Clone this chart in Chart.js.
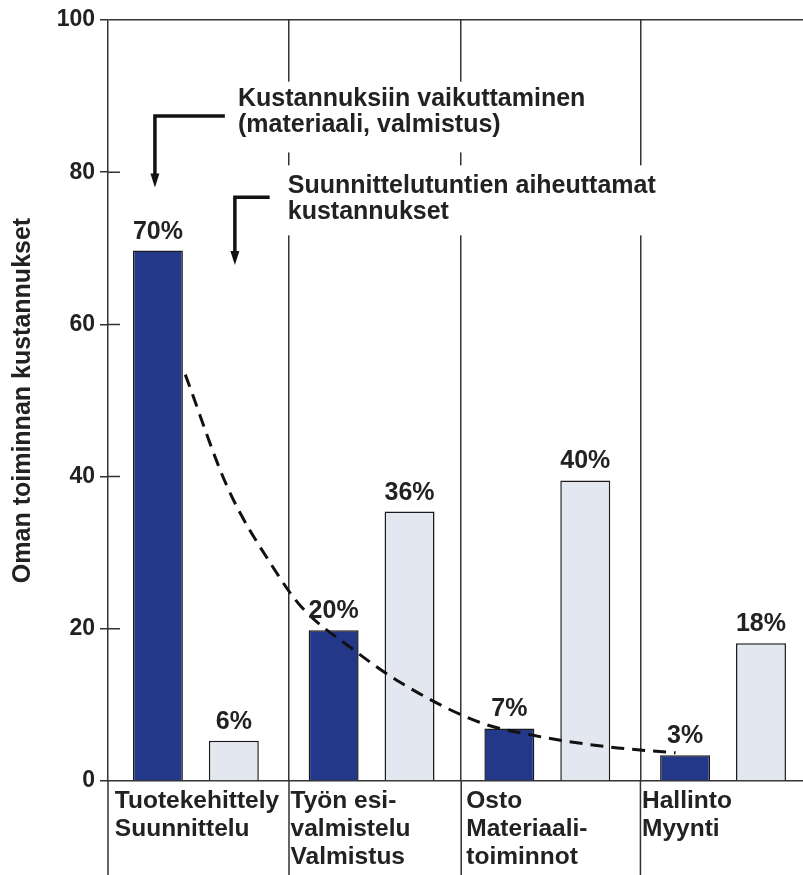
<!DOCTYPE html>
<html>
<head>
<meta charset="utf-8">
<script src="https://cdn.jsdelivr.net/npm/chart.js@4/dist/chart.umd.min.js"></script>
<style>
  body { margin: 0; background: #fff; }
  #wrap { width: 803px; height: 875px; overflow: hidden; }
</style>
</head>
<body>
<div id="wrap"><canvas id="chart" width="820" height="875"></canvas></div>
<script>
const categories = [
	["Tuotekehittely", "Suunnittelu"],
	["Työn esi-", "valmistelu", "Valmistus"],
	["Osto", "Materiaali-", "toiminnot"],
	["Hallinto", "Myynti"],
];
const ownCosts = [69.7, 19.8, 6.9, 3.4];
const ownLabels = ["70%", "20%", "7%", "3%"];
const hourCosts = [5.3, 35.4, 39.5, 18.1];
const hourLabels = ["6%", "36%", "40%", "18%"];
// dashed trend curve, x in category units (0 = first group centre)
const curveX = [-0.06, 0.18, 0.45, 0.6, 0.9, 1.16, 1.61, 1.92, 2.34, 2.73];
const curveY = [53.4, 38.6, 27.7, 22.9, 17.2, 13.0, 7.75, 6.0, 4.5, 3.7];
const yTicks = [0, 20, 40, 60, 80, 100];
const separators = [0.53, 1.51, 2.53];

const notes = [
	{
		lines: ["Kustannuksiin vaikuttaminen", "(materiaali, valmistus)"],
		x: 0.24,
		baselines: [88.7, 85.3],
		box: [0.19, 2.24, 91.9, 82.6],
		arrow: [[0.165, 87.4], [-0.233, 87.4], [-0.233, 78.0]],
	},
	{
		lines: ["Suunnittelutuntien aiheuttamat", "kustannukset"],
		x: 0.523,
		baselines: [77.3, 73.85],
		box: [0.48, 2.67, 80.9, 71.7],
		arrow: [[0.42, 76.7], [0.222, 76.7], [0.222, 67.8]],
	},
];

const FONT = '"Liberation Sans", Arial, sans-serif';
const INK = "#222";
const LINE = "#333";
Chart.defaults.font.family = FONT;
Chart.defaults.color = INK;

const overlay = {
	id: "overlay",
	beforeDatasetsDraw(chart) {
		const { ctx } = chart;
		const xs = chart.scales.x;
		const ys = chart.scales.y;
		ctx.save();
		ctx.fillStyle = "#fff";
		for (const note of notes) {
			const [x0, x1, y0, y1] = note.box;
			const left = xs.getPixelForValue(x0);
			const top = ys.getPixelForValue(y0);
			ctx.fillRect(left, top, xs.getPixelForValue(x1) - left, ys.getPixelForValue(y1) - top);
		}
		ctx.restore();
	},
	afterDraw(chart) {
		const { ctx, chartArea } = chart;
		const xs = chart.scales.x;
		const ys = chart.scales.y;
		ctx.save();

		// axis lines continuing below the x axis
		ctx.strokeStyle = LINE;
		ctx.lineWidth = 1.5;
		ctx.beginPath();
		for (const px of [chartArea.left, ...separators.map((s) => xs.getPixelForValue(s))]) {
			ctx.moveTo(px, chartArea.bottom);
			ctx.lineTo(px, chart.height);
		}
		// inner part of the y ticks
		for (const v of yTicks) {
			if (v > 0 && v < 100) {
				const py = ys.getPixelForValue(v);
				ctx.moveTo(chartArea.left, py);
				ctx.lineTo(chartArea.left + 12, py);
			}
		}
		ctx.stroke();

		// value labels above bars
		ctx.fillStyle = INK;
		ctx.font = "bold 25px " + FONT;
		ctx.textAlign = "center";
		ctx.textBaseline = "alphabetic";
		[ownLabels, hourLabels].forEach((labels, di) => {
			chart.getDatasetMeta(di).data.forEach((bar, i) => {
				ctx.fillText(labels[i], bar.x, bar.y - 12);
			});
		});

		// annotations
		ctx.font = "bold 25px " + FONT;
		ctx.textAlign = "left";
		for (const note of notes) {
			const tx = xs.getPixelForValue(note.x);
			note.lines.forEach((line, i) => {
				ctx.fillText(line, tx, ys.getPixelForValue(note.baselines[i]));
			});
			const pts = note.arrow.map(([x, y]) => [xs.getPixelForValue(x), ys.getPixelForValue(y)]);
			const tip = pts[pts.length - 1];
			ctx.strokeStyle = "#111";
			ctx.lineWidth = 3.5;
			ctx.lineJoin = "miter";
			ctx.beginPath();
			ctx.moveTo(pts[0][0], pts[0][1]);
			ctx.lineTo(pts[1][0], pts[1][1]);
			ctx.lineTo(tip[0], tip[1] - 12);
			ctx.stroke();
			ctx.fillStyle = "#111";
			ctx.beginPath();
			ctx.moveTo(tip[0] - 4.5, tip[1] - 14);
			ctx.lineTo(tip[0] + 4.5, tip[1] - 14);
			ctx.lineTo(tip[0], tip[1]);
			ctx.closePath();
			ctx.fill();
			ctx.fillStyle = INK;
		}
		ctx.restore();
	},
};

const barStyle = {
	borderColor: "#1a1a1a",
	borderWidth: 1.5,
	categoryPercentage: 0.864,
	barPercentage: 0.658,
	order: 1,
};

new Chart(document.getElementById("chart"), {
	type: "bar",
	data: {
		datasets: [
			{
				...barStyle,
				data: ownCosts.map((y, i) => ({ x: i, y })),
				backgroundColor: "#24388a",
			},
			{
				...barStyle,
				data: hourCosts.map((y, i) => ({ x: i, y })),
				backgroundColor: "#e3e7ef",
			},
			{
				type: "line",
				data: curveX.map((x, i) => ({ x, y: curveY[i] })),
				borderColor: "#111",
				borderWidth: 3,
				borderDash: [13, 8],
				pointRadius: 0,
				cubicInterpolationMode: "monotone",
				fill: false,
				order: 0,
			},
		],
	},
	options: {
		responsive: false,
		animation: false,
		layout: { padding: { top: 20, right: 0, left: 0, bottom: 0 } },
		plugins: { legend: { display: false }, tooltip: { enabled: false } },
		scales: {
			x: {
				type: "linear",
				min: -0.5,
				max: 3.5,
				offset: false,
				afterBuildTicks(scale) {
					scale.ticks = categories.map((_, value) => ({ value }));
				},
				grid: { display: false, offset: false, drawTicks: false },
				border: { display: true, color: LINE, width: 1.5 },
				ticks: {
					callback: (value) => categories[value],
					align: "start",
					labelOffset: -81,
					padding: 6,
					autoSkip: false,
					maxRotation: 0,
					color: INK,
					font: { size: 24.5, weight: "bold", lineHeight: 1.143 },
				},
				afterFit(scale) {
					scale.height = 94;
				},
			},
			xSep: {
				type: "linear",
				position: "top",
				min: -0.5,
				max: 3.5,
				offset: false,
				ticks: { display: false },
				grid: { offset: false, drawTicks: false, color: LINE, lineWidth: 1.5 },
				border: { display: false },
				afterBuildTicks(scale) {
					scale.ticks = separators.map((value) => ({ value }));
				},
				afterFit(scale) {
					scale.height = 0;
				},
			},
			y: {
				min: 0,
				max: 100,
				afterBuildTicks(scale) {
					scale.ticks = yTicks.map((value) => ({ value }));
				},
				grid: {
					color: (c) => (c.tick && c.tick.value === 100 ? LINE : "rgba(0,0,0,0)"),
					tickColor: LINE,
					tickLength: 8,
					lineWidth: 1.5,
				},
				border: { display: true, color: LINE, width: 1.5 },
				ticks: {
					padding: 5,
					color: INK,
					font: { size: 23, weight: "bold" },
				},
				title: {
					display: true,
					text: "Oman toiminnan kustannukset",
					color: INK,
					padding: { top: 8, bottom: 0 },
					font: { size: 25, weight: "bold" },
				},
				afterFit(scale) {
					scale.width = 108;
				},
			},
		},
	},
	plugins: [overlay],
});
</script>
</body>
</html>
